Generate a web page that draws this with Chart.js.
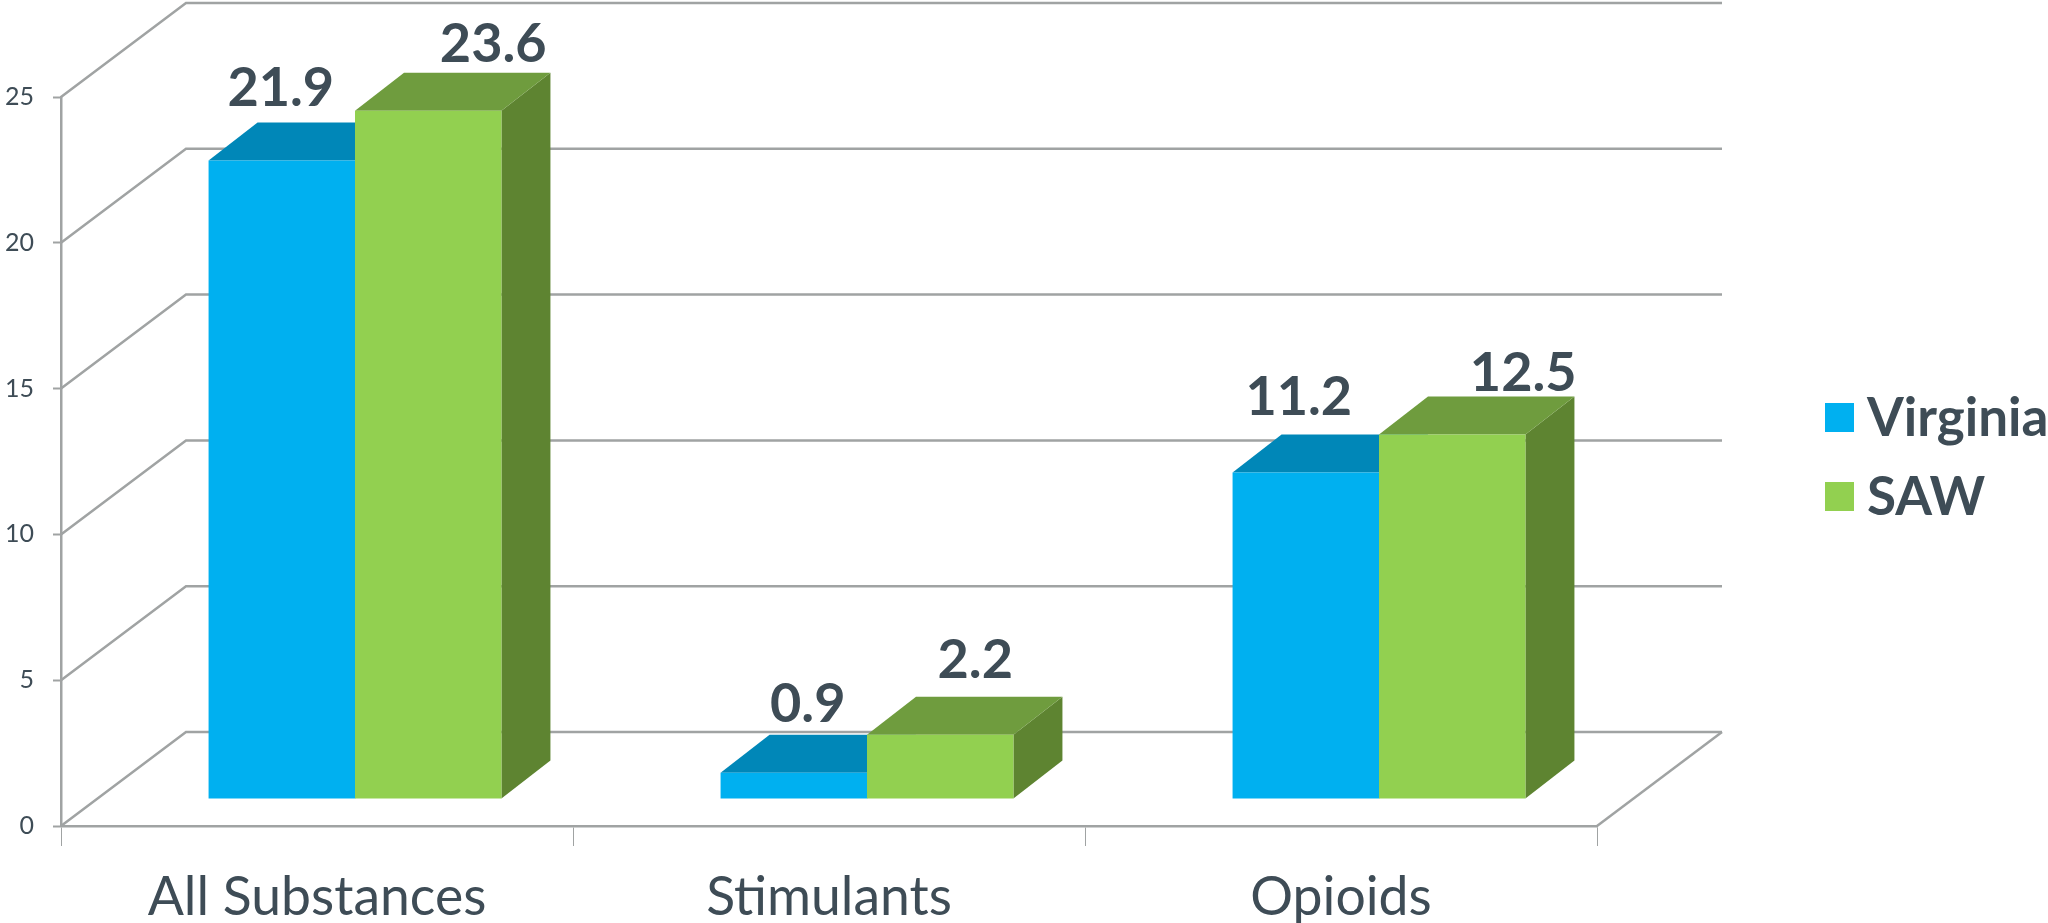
<!DOCTYPE html>
<html>
<head>
<meta charset="utf-8">
<title>Substances</title>
<script src="https://cdn.jsdelivr.net/npm/chart.js@4"></script>
<style>
  html, body { margin: 0; padding: 0; background: #fff; }
  canvas { display: block; }
</style>
</head>
<body>
<canvas id="chart" width="2048" height="923"></canvas>
<script>
const categories = ["All Substances", "Stimulants", "Opioids"];
const virginia = [21.9, 0.9, 11.2];
const saw = [23.6, 2.2, 12.5];

const textColor = "#3E4C56";
const lineColor = "#A0A3A3";
const faces = {
  Virginia: { front: "#00B0F0", top: "#0087B8", side: "#0087B8" },
  SAW: { front: "#92D050", top: "#6F9C3E", side: "#5E8431" }
};

// fake 3d: depth of the walls, depth of a bar, and how far the bars sit from the front edge
const wall = { dx: 125, dy: 94 };
const barDepth = { dx: 49, dy: 38 };
const barShift = { x: 38, y: -27 };

// value labels were placed by hand in the original, [dx from bar centre, dy above bar top]
const labelOffsets = {
  Virginia: [[-1, 54], [14, 51], [-7, 57]],
  SAW: [[65, 49], [35, 57], [71, 44]]
};

const walls = {
  id: "walls",
  beforeDatasetsDraw(chart) {
    const { ctx, chartArea, scales } = chart;
    ctx.save();
    ctx.strokeStyle = lineColor;
    ctx.lineWidth = 2.5;
    scales.y.ticks.forEach(t => {
      const y = scales.y.getPixelForValue(t.value);
      ctx.beginPath();
      ctx.moveTo(chartArea.left, y);
      ctx.lineTo(chartArea.left + wall.dx, y - wall.dy);
      ctx.lineTo(chartArea.right + wall.dx, y - wall.dy);
      ctx.stroke();
    });
    // right edge of the floor
    const y0 = scales.y.getPixelForValue(0);
    ctx.beginPath();
    ctx.moveTo(chartArea.right, y0);
    ctx.lineTo(chartArea.right + wall.dx, y0 - wall.dy);
    ctx.stroke();
    ctx.restore();
  }
};

const bars3d = {
  id: "bars3d",
  // chart.js paints the last dataset first, so all tops and sides go down before any front
  beforeDatasetsDraw(chart) {
    const ctx = chart.ctx;
    ctx.save();
    ctx.translate(barShift.x, barShift.y);
    chart.data.datasets.forEach((ds, i) => {
      const colors = faces[ds.label];
      chart.getDatasetMeta(i).data.forEach(bar => {
        const left = bar.x - bar.width / 2;
        const right = bar.x + bar.width / 2;
        ctx.fillStyle = colors.side;
        ctx.beginPath();
        ctx.moveTo(right, bar.y);
        ctx.lineTo(right + barDepth.dx, bar.y - barDepth.dy);
        ctx.lineTo(right + barDepth.dx, bar.base - barDepth.dy);
        ctx.lineTo(right, bar.base);
        ctx.closePath();
        ctx.fill();
        ctx.fillStyle = colors.top;
        ctx.beginPath();
        ctx.moveTo(left, bar.y);
        ctx.lineTo(left + barDepth.dx, bar.y - barDepth.dy);
        ctx.lineTo(right + barDepth.dx, bar.y - barDepth.dy);
        ctx.lineTo(right, bar.y);
        ctx.closePath();
        ctx.fill();
      });
    });
  },
  afterDatasetsDraw(chart) {
    const ctx = chart.ctx;
    chart.data.datasets.forEach((ds, i) => {
      chart.getDatasetMeta(i).data.forEach((bar, j) => {
        const off = labelOffsets[ds.label][j];
        ctx.fillStyle = textColor;
        ctx.font = "700 54px Lato";
        ctx.textAlign = "center";
        ctx.textBaseline = "alphabetic";
        ctx.fillText(ds.data[j].toFixed(1), bar.x + off[0], bar.y - off[1]);
      });
    });
    ctx.restore();
  }
};

// legend drawn by hand, the gap between swatch and text is tighter than the built in one
const sideLegend = {
  id: "sideLegend",
  afterDraw(chart) {
    const ctx = chart.ctx;
    ctx.save();
    chart.data.datasets.forEach((ds, i) => {
      const y = 403 + i * 79;
      ctx.fillStyle = ds.backgroundColor;
      ctx.fillRect(1825, y, 29, 29);
      ctx.fillStyle = textColor;
      ctx.font = "700 53px Lato";
      ctx.textAlign = "left";
      ctx.textBaseline = "alphabetic";
      ctx.fillText(ds.label, 1867, y + 33);
    });
    ctx.restore();
  }
};

new Chart(document.getElementById("chart").getContext("2d"), {
  type: "bar",
  data: {
    labels: categories,
    datasets: [
      { label: "Virginia", data: virginia, backgroundColor: faces.Virginia.front, clip: false },
      { label: "SAW", data: saw, backgroundColor: faces.SAW.front, clip: false }
    ]
  },
  options: {
    responsive: false,
    animation: false,
    devicePixelRatio: 1,
    layout: { padding: { top: 97, right: 451, left: 0, bottom: 0 } },
    plugins: { legend: { display: false }, tooltip: { enabled: false } },
    datasets: { bar: { categoryPercentage: 0.572, barPercentage: 1 } },
    scales: {
      x: {
        afterFit(s) { s.height = 97; },
        border: { color: lineColor, width: 2.5 },
        grid: { drawOnChartArea: false, color: lineColor, tickLength: 20, tickWidth: 1 },
        ticks: { color: textColor, font: { family: "Lato", size: 53.5 }, padding: 20, maxRotation: 0 }
      },
      y: {
        min: 0,
        max: 25,
        afterFit(s) { s.width = 61; },
        border: { color: lineColor, width: 2.5 },
        grid: { drawOnChartArea: false, color: lineColor, tickLength: 8, tickWidth: 2 },
        ticks: { stepSize: 5, color: textColor, font: { family: "Lato", size: 25 }, padding: 19 }
      }
    }
  },
  plugins: [walls, bars3d, sideLegend]
});
</script>
</body>
</html>
